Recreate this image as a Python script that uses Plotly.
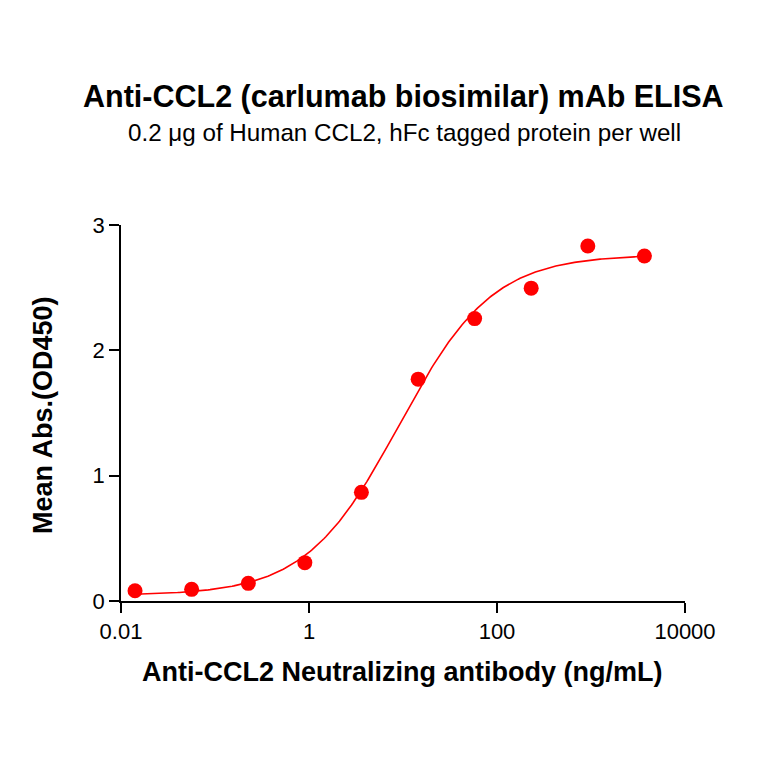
import numpy as np
import plotly.graph_objects as go

# Data
conc = [0.0141, 0.0564, 0.226, 0.903, 3.61, 14.5, 57.8, 231, 925, 3700]  # ng/mL
od450 = [0.082, 0.093, 0.141, 0.306, 0.867, 1.77, 2.253, 2.496, 2.833, 2.753]

x_tickvals = [0.01, 1, 100, 10000]
x_ticktext = ["0.01", "1", "100", "10000"]
y_tickvals = [0, 1, 2, 3]

title = "<b>Anti-CCL2 (carlumab biosimilar) mAb ELISA</b>"
subtitle = "0.2 μg of Human CCL2, hFc tagged protein per well"
x_title = "<b>Anti-CCL2 Neutralizing antibody (ng/mL)</b>"
y_title = "<b>Mean Abs.(OD450)</b>"

# 4-parameter logistic fit (least squares, Levenberg-Marquardt)
lx = np.log10(np.array(conc))
yy = np.array(od450)


def model(p, l):
    b, t, lec, h = p
    return b + (t - b) / (1.0 + 10.0 ** ((lec - l) * h))


p = np.array([0.05, 2.75, 0.93, 1.0])
lam = 1e-2
for _ in range(500):
    r = yy - model(p, lx)
    J = np.zeros((len(lx), 4))
    for k in range(4):
        dp = np.zeros(4)
        dp[k] = 1e-6
        J[:, k] = (model(p + dp, lx) - model(p - dp, lx)) / 2e-6
    A = J.T @ J
    g = J.T @ r
    step = np.linalg.solve(A + lam * np.diag(np.diag(A)), g)
    pn = p + step
    if np.sum((yy - model(pn, lx)) ** 2) < np.sum(r ** 2):
        p = pn
        lam *= 0.5
    else:
        lam *= 3

lcurve = np.linspace(lx.min(), lx.max(), 300)
xcurve = 10 ** lcurve
ycurve = model(p, lcurve)

font = "Liberation Sans, Arial, sans-serif"
red = "#FF0000"

W = H = 764
ML, MR, MT, MB = 113, 87, 217, 171
plot_w = W - ML - MR
plot_h = H - MT - MB


def px_to_paper(xpx, ypx):
    return (xpx - ML) / plot_w, (H - MB - ypx) / plot_h


fig = go.Figure()
fig.add_trace(go.Scatter(x=xcurve, y=ycurve, mode="lines",
                         line=dict(color=red, width=1.6), hoverinfo="skip",
                         showlegend=False))
fig.add_trace(go.Scatter(x=conc, y=od450, mode="markers",
                         marker=dict(color=red, size=15, line=dict(width=0)),
                         showlegend=False, cliponaxis=False))

anns = []
for text, (cx, cy), size, angle in [
    (title, (395, 89), 30.5, 0),
    (subtitle, (396, 125), 24.2, 0),
    (x_title, (394, 664), 27, 0),
    (y_title, (35, 407), 27, -90),
]:
    ax_, ay_ = px_to_paper(cx, cy)
    anns.append(dict(text=text, x=ax_, y=ay_, xref="paper", yref="paper",
                     xanchor="center", yanchor="middle", showarrow=False,
                     textangle=angle, font=dict(size=size, family=font, color="black")))

fig.update_layout(
    width=W, height=H,
    paper_bgcolor="white", plot_bgcolor="white",
    margin=dict(l=ML, r=MR, t=MT, b=MB, autoexpand=False),
    font=dict(family=font, color="black", size=22),
    annotations=anns,
)

fig.update_xaxes(
    type="log", range=[-2, 4],
    tickvals=x_tickvals, ticktext=x_ticktext,
    showline=True, linecolor="black", linewidth=1.8,
    ticks="outside", ticklen=10, tickwidth=1.8, tickcolor="black",
    showgrid=False, zeroline=False,
    tickfont=dict(size=22, family=font),
)
fig.update_yaxes(
    range=[0, 3], tickvals=y_tickvals,
    showline=True, linecolor="black", linewidth=1.8,
    ticks="outside", ticklen=10, tickwidth=1.8, tickcolor="black",
    showgrid=False, zeroline=False,
    tickfont=dict(size=22, family=font),
)

fig.write_html("out.html")
